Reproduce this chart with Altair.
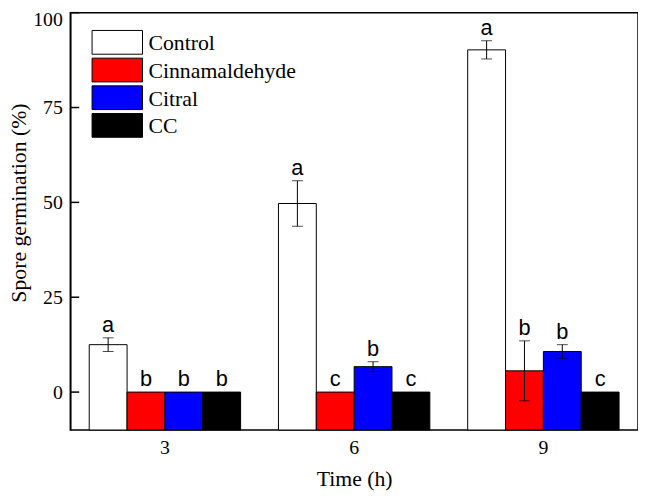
import altair as alt
import pandas as pd

times = ["3", "6", "9"]
treatments = ["Control", "Cinnamaldehyde", "Citral", "CC"]
colors = ["#ffffff", "#ff0000", "#0000ff", "#000000"]

control_mean = [12.5, 49.7, 90.2]
control_err = [1.8, 6.0, 2.4]
cinn_mean = [0.0, 0.0, 5.6]
cinn_err = [0.0, 0.0, 7.9]
citral_mean = [0.0, 6.7, 10.7]
citral_err = [0.0, 1.3, 1.8]
cc_mean = [0.0, 0.0, 0.0]
cc_err = [0.0, 0.0, 0.0]

control_letters = ["a", "a", "a"]
cinn_letters = ["b", "c", "b"]
citral_letters = ["b", "b", "b"]
cc_letters = ["b", "c", "c"]

y_ticks = [0, 25, 50, 75, 100]

means = [control_mean, cinn_mean, citral_mean, cc_mean]
errs = [control_err, cinn_err, citral_err, cc_err]
letters = [control_letters, cinn_letters, citral_letters, cc_letters]

rows = []
for ti, tr in enumerate(treatments):
    for i, t in enumerate(times):
        m = means[ti][i]
        e = errs[ti][i]
        rows.append({"time": t, "treatment": tr, "value": m, "err": e,
                     "lo": m - e, "hi": m + e, "letter": letters[ti][i]})
df = pd.DataFrame(rows)

SERIF = "Liberation Serif"
SANS = "Liberation Sans"

x_enc = alt.X("time:N", sort=times, title="Time (h)",
              scale=alt.Scale(paddingInner=0.2, paddingOuter=0.1),
              axis=alt.Axis(labelAngle=0, ticks=False, domain=False,
                            labelFont=SERIF, labelFontSize=20, labelColor="black",
                            labelPadding=8,
                            titleFont=SERIF, titleFontSize=22, titleFontWeight="normal",
                            titleColor="black", titleY=56, titleBaseline="alphabetic"))
xoff = alt.XOffset("treatment:N", sort=treatments,
                   scale=alt.Scale(domain=treatments, paddingInner=0, paddingOuter=0))
y_scale = alt.Scale(domain=[-10, 100], nice=False, zero=False)

base = alt.Chart(df)

bars = base.mark_bar(stroke="black", strokeWidth=1).encode(
    x=x_enc,
    xOffset=xoff,
    y=alt.Y("value:Q", scale=y_scale, title="Spore germination (%)",
            axis=alt.Axis(values=y_ticks, ticks=False, grid=False, domain=True,
                          domainColor="black", domainWidth=1.5,
                          labelFont=SERIF, labelFontSize=20, labelColor="black",
                          labelPadding=8, labelFlush=True, labelFlushOffset=3,
                          titleFont=SERIF, titleFontSize=22, titleFontWeight="normal",
                          titleColor="black", titleX=-62, titleY=192,
                          titleBaseline="top")),
    y2=alt.datum(-10),
    fill=alt.Color("treatment:N", scale=alt.Scale(domain=treatments, range=colors),
                   legend=None),
)

err_base = base.transform_filter("datum.err > 0")
err_rule = err_base.mark_rule(color="black", strokeWidth=1).encode(
    x=alt.X("time:N", sort=times), xOffset=xoff,
    y=alt.Y("lo:Q", scale=y_scale), y2="hi:Q")
cap_hi = err_base.mark_tick(color="black", thickness=1, size=11, orient="horizontal").encode(
    x=alt.X("time:N", sort=times), xOffset=xoff, y=alt.Y("hi:Q", scale=y_scale))
cap_lo = err_base.mark_tick(color="black", thickness=1, size=11, orient="horizontal").encode(
    x=alt.X("time:N", sort=times), xOffset=xoff, y=alt.Y("lo:Q", scale=y_scale))

labels = base.mark_text(font=SANS, fontSize=22, color="black", baseline="alphabetic",
                        dy=-6).encode(
    x=alt.X("time:N", sort=times), xOffset=xoff,
    y=alt.Y("hi:Q", scale=y_scale), text="letter:N")

# inward-pointing y ticks drawn as short rules at the tick values
tick_df = pd.DataFrame({"t": y_ticks})
ticks = alt.Chart(tick_df).mark_rule(color="black", strokeWidth=1.5).encode(
    y=alt.Y("t:Q", scale=y_scale), x=alt.value(0), x2=alt.value(9))

legend_layers = []
for i, (name, col) in enumerate(zip(treatments, colors)):
    ldf = pd.DataFrame({"label": [name]})
    top = 18 + 28 * i
    legend_layers.append(
        alt.Chart(ldf).mark_rect(fill=col, stroke="black", strokeWidth=1).encode(
            x=alt.value(22), x2=alt.value(73), y=alt.value(top), y2=alt.value(top + 24)))
    legend_layers.append(
        alt.Chart(ldf).mark_text(font=SERIF, fontSize=22, color="black", align="left",
                                 baseline="alphabetic").encode(
            x=alt.value(79), y=alt.value(top + 20), text="label:N"))

chart = alt.layer(bars, err_rule, cap_hi, cap_lo, labels, ticks, *legend_layers).properties(
    width=574, height=422,
    background="white",
    autosize=alt.AutoSizeParams(type="none"),
    padding={"left": 63, "top": 2, "right": 0, "bottom": 65},
).configure_view(stroke="black", strokeWidth=1.5)

chart.save("out.html", embed_options={"renderer": "svg", "actions": False})
